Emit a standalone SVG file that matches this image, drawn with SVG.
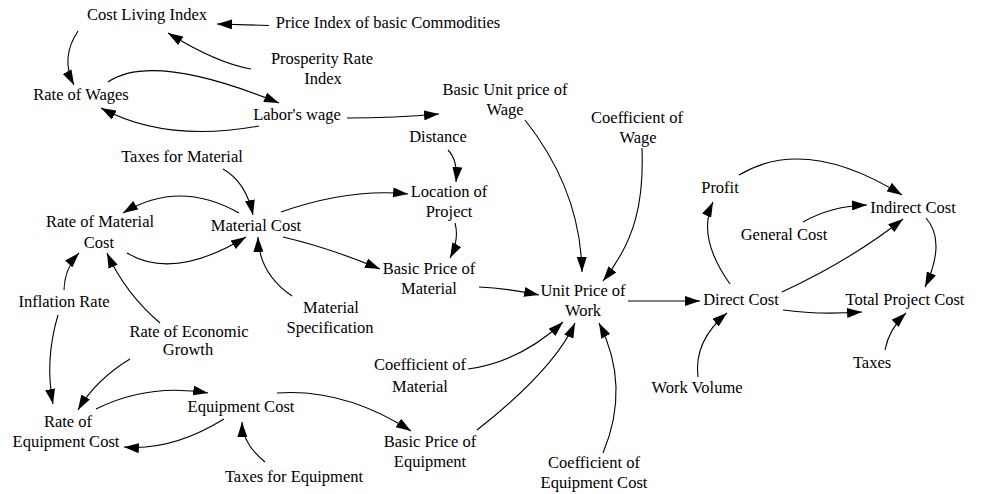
<svg xmlns="http://www.w3.org/2000/svg" width="981" height="494" viewBox="0 0 981 494">
<defs>
<style>
text{font-family:'Liberation Serif','Times New Roman',serif;font-size:16.5px;fill:#000;text-anchor:middle}
.c path{fill:none;stroke:#000;stroke-width:1.1}
</style>
<marker id="arr" markerWidth="15" markerHeight="10" refX="15" refY="5" orient="auto" markerUnits="userSpaceOnUse"><path d="M0,0 L15,5 L0,10 z" fill="#000"/></marker>
</defs>
<rect width="981" height="494" fill="#fff"/>
<g class="c" id="connectors">
<path marker-end="url(#arr)" d="M269,25.5 L217,24"/>
<path marker-end="url(#arr)" d="M251,69 Q216.5,63 168,33"/>
<path marker-end="url(#arr)" d="M78,31 Q60,58 74,85"/>
<path marker-end="url(#arr)" d="M108,82 Q152.5,51.5 279,103"/>
<path marker-end="url(#arr)" d="M259,126 Q166,143 101,108"/>
<path marker-end="url(#arr)" d="M347,118 Q395,118 439,114"/>
<path marker-end="url(#arr)" d="M525,120 Q580.5,190 582,272"/>
<path marker-end="url(#arr)" d="M642,148 C644,200 636,240 603,281"/>
<path marker-end="url(#arr)" d="M448,150 Q458,160 456,182"/>
<path marker-end="url(#arr)" d="M281,212 Q350,188 408,194"/>
<path marker-end="url(#arr)" d="M455,223 Q459.5,239.5 450,258"/>
<path marker-end="url(#arr)" d="M283,237 Q330,248 380,269"/>
<path marker-end="url(#arr)" d="M479,287 Q505,288 539,295"/>
<path marker-end="url(#arr)" d="M628,301 L700,301"/>
<path marker-end="url(#arr)" d="M223,169 Q246,182 253,215"/>
<path marker-end="url(#arr)" d="M239,213 Q179,179 123,213"/>
<path marker-end="url(#arr)" d="M127,253 Q173.5,281 246,237"/>
<path marker-end="url(#arr)" d="M292,296 Q259,273.5 258,237"/>
<path marker-end="url(#arr)" d="M64,290 Q64.5,268.5 79,253"/>
<path marker-end="url(#arr)" d="M160,323 Q125,293 107,253"/>
<path marker-end="url(#arr)" d="M58,315 Q44.5,360.5 53,404"/>
<path marker-end="url(#arr)" d="M130,359 Q96,379.5 78,410"/>
<path marker-end="url(#arr)" d="M96,409 Q148,383 208,393"/>
<path marker-end="url(#arr)" d="M224,419 Q172,451 124,447"/>
<path marker-end="url(#arr)" d="M265,462 Q242.5,444 242,422"/>
<path marker-end="url(#arr)" d="M277,393 Q344,388 411,431"/>
<path marker-end="url(#arr)" d="M477,430 Q554,369.5 575,323"/>
<path marker-end="url(#arr)" d="M468,369 Q520,362 563,322"/>
<path marker-end="url(#arr)" d="M603,453 Q631,386 599,323"/>
<path marker-end="url(#arr)" d="M730,284 Q696.5,237 713,202"/>
<path marker-end="url(#arr)" d="M739,175 Q805.5,135 902,195"/>
<path marker-end="url(#arr)" d="M803,222 Q831,206 867,205"/>
<path marker-end="url(#arr)" d="M782,292 Q851,260 903,219"/>
<path marker-end="url(#arr)" d="M926,218 Q946.5,241.5 925,287"/>
<path marker-end="url(#arr)" d="M783,310 Q817.5,315 862,312"/>
<path marker-end="url(#arr)" d="M885,350 Q889,329 906,313"/>
<path marker-end="url(#arr)" d="M698,377 Q693.5,341 727,313"/>
</g>
<g id="cost_living"><text x="147" y="20">Cost Living Index</text></g>
<g id="price_index"><text x="388" y="28">Price Index of basic Commodities</text></g>
<g id="prosperity"><text x="322" y="64">Prosperity Rate</text><text x="323" y="84">Index</text></g>
<g id="rate_wages"><text x="81" y="100">Rate of Wages</text></g>
<g id="labor_wage"><text x="297" y="120">Labor's wage</text></g>
<g id="basic_unit_wage"><text x="505" y="95">Basic Unit price of</text><text x="505" y="115">Wage</text></g>
<g id="coef_wage"><text x="637" y="123">Coefficient of</text><text x="638" y="143">Wage</text></g>
<g id="distance"><text x="438" y="142">Distance</text></g>
<g id="taxes_material"><text x="182" y="162">Taxes for Material</text></g>
<g id="location"><text x="449" y="197">Location of</text><text x="449" y="217">Project</text></g>
<g id="rate_material"><text x="100" y="227">Rate of Material</text><text x="99" y="248">Cost</text></g>
<g id="material_cost"><text x="256" y="231">Material Cost</text></g>
<g id="basic_price_material"><text x="429" y="274">Basic Price of</text><text x="429" y="294">Material</text></g>
<g id="unit_price_work"><text x="583" y="296">Unit Price of</text><text x="583" y="316">Work</text></g>
<g id="inflation"><text x="64" y="307">Inflation Rate</text></g>
<g id="material_spec"><text x="331" y="313">Material</text><text x="330" y="333">Specification</text></g>
<g id="rate_econ"><text x="189" y="337">Rate of Economic</text><text x="188" y="355">Growth</text></g>
<g id="coef_material"><text x="420" y="370">Coefficient of</text><text x="420" y="392">Material</text></g>
<g id="rate_equip"><text x="68" y="427">Rate of</text><text x="66" y="447">Equipment Cost</text></g>
<g id="equipment_cost"><text x="241" y="412">Equipment Cost</text></g>
<g id="basic_price_equip"><text x="430" y="447">Basic Price of</text><text x="430" y="467">Equipment</text></g>
<g id="taxes_equip"><text x="294" y="482">Taxes for Equipment</text></g>
<g id="coef_equip"><text x="594" y="468">Coefficient of</text><text x="594" y="488">Equipment Cost</text></g>
<g id="direct_cost"><text x="741" y="305">Direct Cost</text></g>
<g id="profit"><text x="720" y="193">Profit</text></g>
<g id="indirect_cost"><text x="913" y="213">Indirect Cost</text></g>
<g id="general_cost"><text x="784" y="240">General Cost</text></g>
<g id="total_cost"><text x="905" y="305">Total Project Cost</text></g>
<g id="taxes"><text x="872" y="368">Taxes</text></g>
<g id="work_volume"><text x="697" y="393">Work Volume</text></g>
</svg>
